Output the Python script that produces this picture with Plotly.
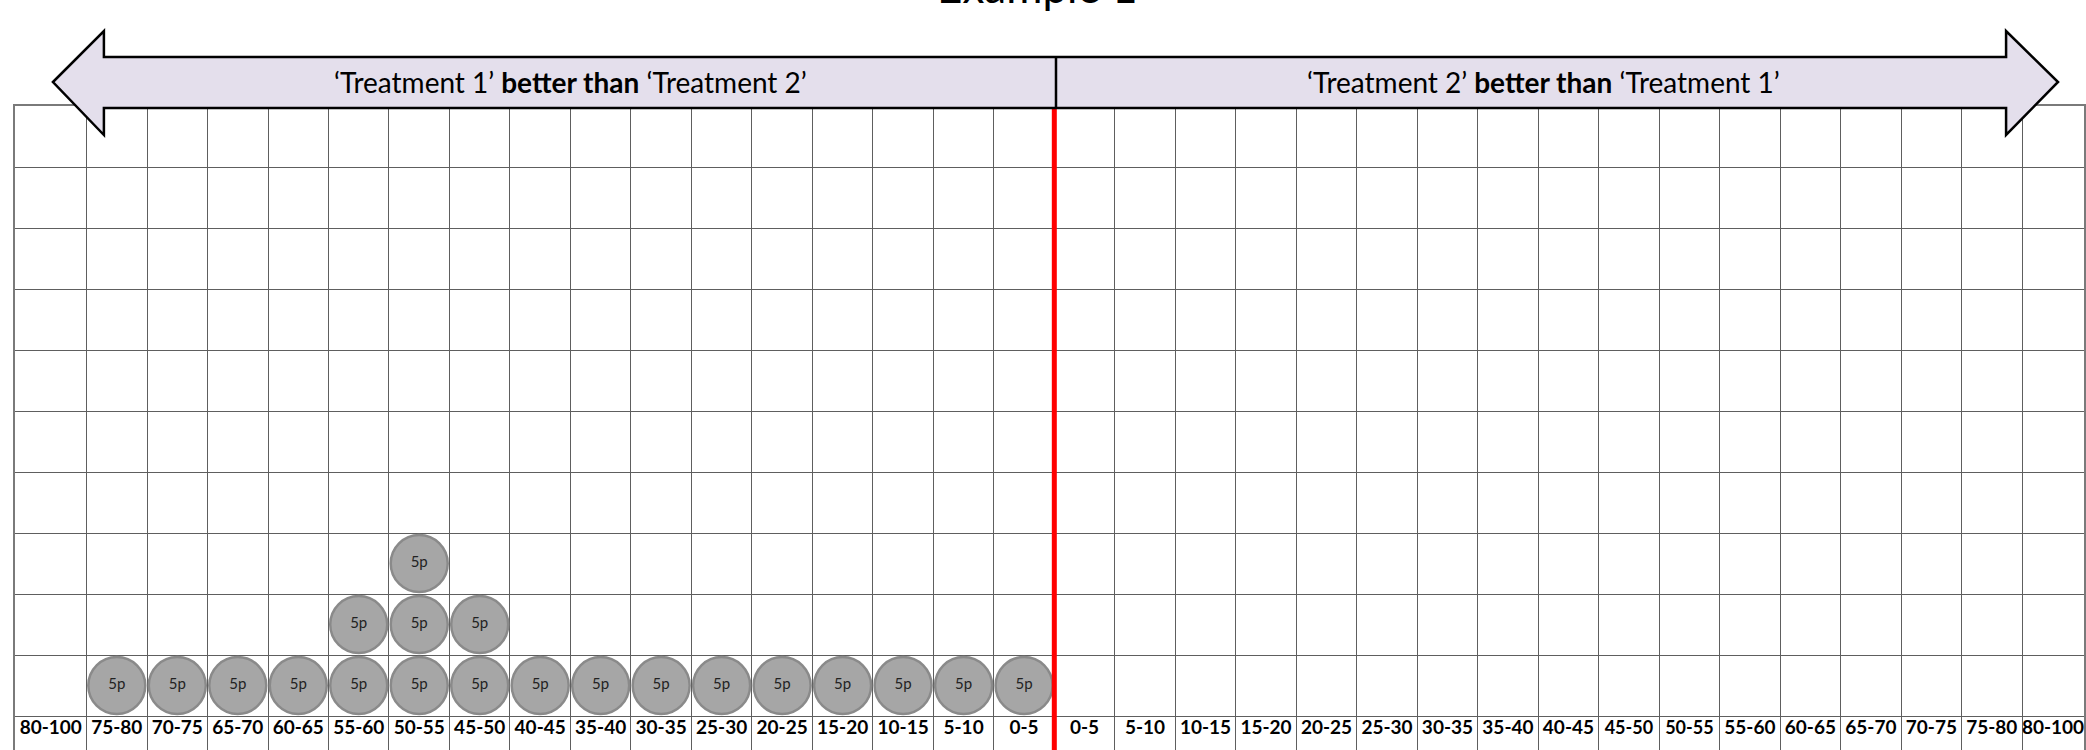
import plotly.graph_objects as go

# ---------------- data ----------------
left_categories = ["80-100", "75-80", "70-75", "65-70", "60-65", "55-60", "50-55", "45-50",
                   "40-45", "35-40", "30-35", "25-30", "20-25", "15-20", "10-15", "5-10", "0-5"]
right_categories = ["0-5", "5-10", "10-15", "15-20", "20-25", "25-30", "30-35", "35-40", "40-45",
                    "45-50", "50-55", "55-60", "60-65", "65-70", "70-75", "75-80", "80-100"]
left_counts = [0, 1, 1, 1, 1, 2, 3, 2, 1, 1, 1, 1, 1, 1, 1, 1, 1]
right_counts = [0] * 17
marker_label = "5p"
title_text = "Example 1"
left_arrow_text = "‘Treatment 1’ <b>better than</b> ‘Treatment 2’"
right_arrow_text = "‘Treatment 2’ <b>better than</b> ‘Treatment 1’"

# ---------------- layout constants ----------------
W, H = 2086, 750
ML, MR, MT, MB = 15, 0, 106, 0
XR = [-0.683, 33.524]
YR = [-0.557, 10]
PW, PH = W - ML - MR, H - MT - MB

categories = left_categories + right_categories
counts = left_counts + right_counts
n = len(categories)

# circle positions
cx, cy, ct = [], [], []
for i, c in enumerate(counts):
    for k in range(c):
        cx.append(i)
        cy.append(k + 0.5)
        ct.append(marker_label)

# label positions (column centres; outer columns are wider)
lx = list(range(n))
lx[0] = (XR[0] + 0.5) / 2
lx[-1] = (n - 1.5 + XR[1]) / 2
ltext, lsize = [], []
for i, cat in enumerate(categories):
    ltext.append("<b>" + cat + "</b>")
    lsize.append(18 if (i > 16 and cat in ("45-50", "50-55")) else 19)

fig = go.Figure()
fig.add_trace(go.Scatter(
    x=cx, y=cy, mode="markers+text", text=ct, textposition="middle center",
    textfont=dict(family="Lato", size=15, color="#222222"),
    marker=dict(size=57, color="#a6a6a6", line=dict(color="#8a8a8a", width=2.5)),
    hoverinfo="skip", showlegend=False, cliponaxis=False))
fig.add_trace(go.Scatter(
    x=lx, y=[-0.22] * n, mode="text", text=ltext,
    textfont=dict(family="Lato", size=lsize, color="#000000"),
    hoverinfo="skip", showlegend=False, cliponaxis=False))

# red dividing line
fig.add_shape(type="line", xref="x", yref="paper", x0=16.5, x1=16.5, y0=0, y1=1,
              line=dict(color="#ff0000", width=5), layer="above")


def px(x):
    return (x - ML) / PW


def py(y):
    return (H - MB - y) / PH


# double-headed arrow (pixel geometry -> paper coords)
tipL, baseL, baseR, tipR = 53, 104, 2008, 2060
mid, headT, headB, bodyT, bodyB = 82, 31, 135, 57, 108
pts = [(tipL, mid), (baseL, headT), (baseL, bodyT), (baseR, bodyT), (baseR, headT),
       (tipR, mid), (baseR, headB), (baseR, bodyB), (baseL, bodyB), (baseL, headB)]
path = "M " + " L ".join(f"{px(a):.5f},{py(b):.5f}" for a, b in pts) + " Z"
fig.add_shape(type="path", xref="paper", yref="paper", path=path,
              fillcolor="#e4dfec", line=dict(color="#000000", width=2.5), layer="above")
fig.add_shape(type="line", xref="paper", yref="paper", x0=px(1057), x1=px(1057),
              y0=py(bodyT), y1=py(bodyB), line=dict(color="#000000", width=2.5), layer="above")

fig.add_annotation(text=left_arrow_text, xref="paper", yref="paper", x=px(571), y=py(82),
                   showarrow=False, font=dict(family="Lato", size=28, color="#000000"),
                   xanchor="center", yanchor="middle")
fig.add_annotation(text=right_arrow_text, xref="paper", yref="paper", x=px(1545), y=py(82),
                   showarrow=False, font=dict(family="Lato", size=28, color="#000000"),
                   xanchor="center", yanchor="middle")
fig.add_annotation(text=title_text, xref="paper", yref="paper", x=px(1038), y=py(-14),
                   showarrow=False, font=dict(family="Lato", size=44, color="#000000"),
                   xanchor="center", yanchor="middle")

fig.update_xaxes(range=XR, tickvals=[i + 0.5 for i in range(n - 1)], showticklabels=False,
                 ticks="", showgrid=True, gridcolor="#5e5e5e", gridwidth=1, zeroline=False,
                 showline=True, linecolor="#7a7a7a", linewidth=1.5, mirror=True, fixedrange=True)
fig.update_yaxes(range=YR, tickvals=list(range(0, 11)), showticklabels=False, ticks="",
                 showgrid=True, gridcolor="#5e5e5e", gridwidth=1, zeroline=False,
                 showline=True, linecolor="#7a7a7a", linewidth=1.5, mirror=True, fixedrange=True)

fig.update_layout(width=W, height=H, margin=dict(l=ML, r=MR, t=MT, b=MB),
                  paper_bgcolor="white", plot_bgcolor="white", showlegend=False,
                  font=dict(family="Lato"))

fig.write_html("out.html", config={"displayModeBar": False},
               post_script="document.body.style.margin='0';document.body.style.overflow='hidden';")
